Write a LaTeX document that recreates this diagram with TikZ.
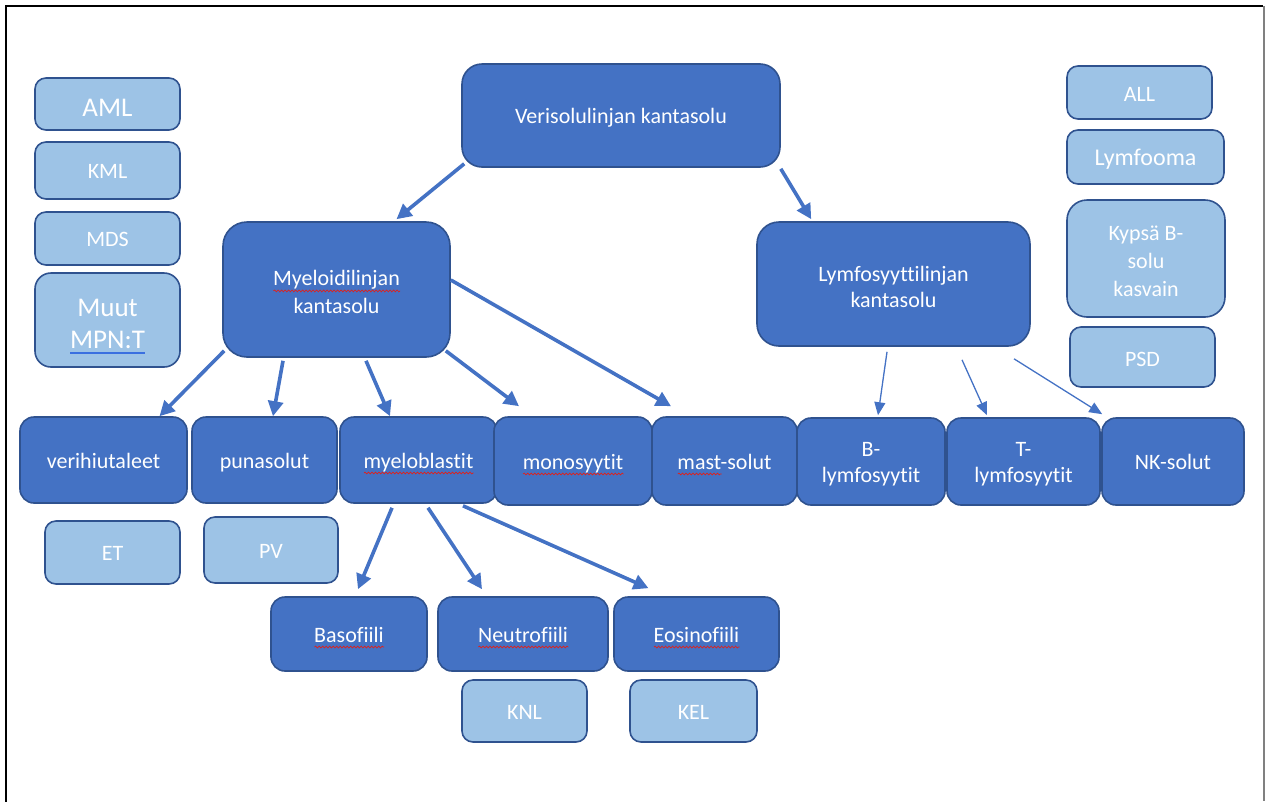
\documentclass[tikz,border=0pt]{standalone}
\usepackage{fontspec}
\setmainfont{Carlito}[Ligatures=NoCommon]
\usetikzlibrary{arrows.meta,decorations.pathmorphing}
\definecolor{dkfill}{HTML}{4472C4}
\definecolor{ltfill}{HTML}{9DC3E6}
\definecolor{bord}{HTML}{2F528F}
\definecolor{arrc}{HTML}{4472C4}
\definecolor{wavered}{HTML}{E0201A}
\definecolor{linkblue}{HTML}{3A6FE0}
\newlength\uwlen
\newcommand\rwave[1]{\settowidth\uwlen{#1}\makebox[0pt][l]{\raisebox{-5pt}{\tikz[baseline=0pt,sharp corners]\draw[sharp corners,wavered,line width=0.7pt,decorate,decoration={snake,amplitude=0.9pt,segment length=3.5pt}] (0pt,0pt) -- (\uwlen,0pt);}}#1}
\newcommand\bline[1]{\settowidth\uwlen{#1}\makebox[0pt][l]{\textcolor{linkblue}{\rule[-5pt]{\uwlen}{1.3pt}}}#1}
\newcommand\fsz[2]{\fontsize{#1}{#2}\selectfont}
\newcommand\lift[1]{\rule{0pt}{#1}}
\begin{document}
\begin{tikzpicture}[x=1pt,y=-1pt,
  base/.style={rectangle, draw=bord, line width=1.6pt, text=white, align=center, inner sep=0pt, font=\fsz{22}{27}},
  dkbox/.style={base, fill=dkfill, rounded corners=#1},
  dkbox/.default=14pt,
  ltbox/.style={base, fill=ltfill, rounded corners=#1},
  ltbox/.default=11pt,
  one/.style={text height=17pt, text depth=1pt},
  sz/.style 2 args={minimum width=#1pt, minimum height=#2pt},
  arr/.style={draw=arrc, line width=3.6pt, -{Triangle[length=15pt,width=15pt]}},
  tarr/.style={draw=arrc, line width=1.3pt, -{Triangle[length=13pt,width=11pt]}}
]
\useasboundingbox (0,0) rectangle (1265,801);
% frame
\draw[line width=2.7pt, line cap=rect] (6,801) -- (6,6) -- (1262,6);
\draw[gray, line width=2pt] (1263.5,6) -- (1263.5,801);

% main nodes
\node[dkbox=20pt, one, sz={318}{103}] (veri) at (621,115.5) {Verisolulinjan kantasolu};
\node[dkbox=24pt, sz={227}{135}, font=\fsz{22}{28}] (myel) at (336.5,289.5) {\lift{21pt}\rwave{Myeloidilinjan}\\kantasolu};
\node[dkbox=22pt, sz={273}{124}, font=\fsz{22}{26.5}] (lymf) at (893.5,284) {\lift{21pt}Lymfosyyttilinjan\\kantasolu};

% bottom row
\node[dkbox, one, sz={167}{86}] (verih) at (103.5,460) {verihiutaleet};
\node[dkbox, one, sz={145}{86}] (puna) at (264.5,460) {punasolut};
\node[dkbox, one, sz={157}{86}] (myelb) at (418.5,460) {\rwave{myeloblastit}};
\node[dkbox, one, sz={158}{88}] (mono) at (573,461) {\rwave{monosyytit}};
\node[dkbox, one, sz={145}{88}] (mast) at (724.5,461) {\rwave{mast}-solut};
\node[dkbox, sz={148}{87}, font=\fsz{22}{26}] (blym) at (871,461.5) {\lift{19pt}B-\\lymfosyytit};
\node[dkbox, sz={153}{87}, font=\fsz{22}{26}] (tlym) at (1023.5,461.5) {\lift{19pt}T-\\lymfosyytit};
\node[dkbox, one, sz={142}{87}] (nk) at (1173,461.5) {NK-solut};

% granulocytes
\node[dkbox, one, sz={156}{74}] (baso) at (349,634) {\rwave{Basofiili}};
\node[dkbox, one, sz={170}{74}] (neut) at (523,634) {\rwave{Neutrofiili}};
\node[dkbox, one, sz={165}{74}] (eos) at (696.5,634) {\rwave{Eosinofiili}};

% light boxes
\node[ltbox, one, sz={135}{63}] (et) at (112.5,552.5) {ET};
\node[ltbox, one, sz={134}{66}] (pv) at (271,550) {PV};
\node[ltbox, one, sz={125}{62}] (knl) at (524.5,711) {KNL};
\node[ltbox, one, sz={127}{62}] (kel) at (693.5,711) {KEL};

\node[ltbox, sz={145}{52}, font=\fsz{27}{31}, text height=25pt, text depth=0pt] (aml) at (107.5,104) {AML};
\node[ltbox, one, sz={145}{57}] (kml) at (107.5,170.5) {KML};
\node[ltbox, one, sz={145}{53}] (mds) at (107.5,238.5) {MDS};
\node[ltbox=16pt, sz={145}{94}, font=\fsz{27}{32}] (muut) at (107.5,320) {\lift{30pt}Muut\\\bline{MPN:T}};

\node[ltbox, one, sz={145}{53}, text height=18pt, text depth=0pt] (all) at (1139.5,92.5) {ALL};
\node[ltbox, sz={157}{54}, font=\fsz{24}{28}, text height=18pt, text depth=2pt] (lymfo) at (1145.5,157) {Lymfooma};
\node[ltbox=20pt, sz={158}{117}, font=\fsz{22}{28}] (kypsa) at (1146,258.5) {\lift{20pt}Kypsä B-\\solu\\kasvain};
\node[ltbox, one, sz={145}{60}, text height=18pt, text depth=0pt] (psd) at (1142.5,357) {PSD};

% arrows
\draw[arr] ([shift={(3,-4)}]veri.south west) -- ([shift={(60,-2)}]myel.north);
\draw[arr] ([shift={(0,1)}]veri.south east) -- ([shift={(55,-2)}]lymf.north west);

\draw[arr] ([shift={(2,-7)}]myel.south west) -- ([shift={(56,0)}]verih.north);
\draw[arr] ([shift={(-53.5,3)}]myel.south) -- ([shift={(8.5,0)}]puna.north);
\draw[arr] ([shift={(29.5,3)}]myel.south) -- ([shift={(-28.5,0)}]myelb.north);
\draw[arr] ([shift={(-5,-7)}]myel.south east) -- ([shift={(-54,-10)}]mono.north);
\draw[arr] ([shift={(0,-9.5)}]myel.east) -- ([shift={(-53.5,-10)}]mast.north);

\draw[tarr] ([shift={(-6.5,5)}]lymf.south) -- ([shift={(7,-2)}]blym.north);
\draw[tarr] ([shift={(68.5,13)}]lymf.south) -- ([shift={(-36.5,-2)}]tlym.north);
\draw[tarr] ([shift={(120.5,12)}]lymf.south) -- ([shift={(1,-3)}]nk.north west);

\draw[arr] ([shift={(-26.5,4)}]myelb.south) -- ([shift={(9,-7)}]baso.north);
\draw[arr] ([shift={(9.5,4)}]myelb.south) -- ([shift={(-41,-7)}]neut.north);
\draw[arr] ([shift={(44.5,2)}]myelb.south) -- ([shift={(-48,-8)}]eos.north);
\end{tikzpicture}
\end{document}
